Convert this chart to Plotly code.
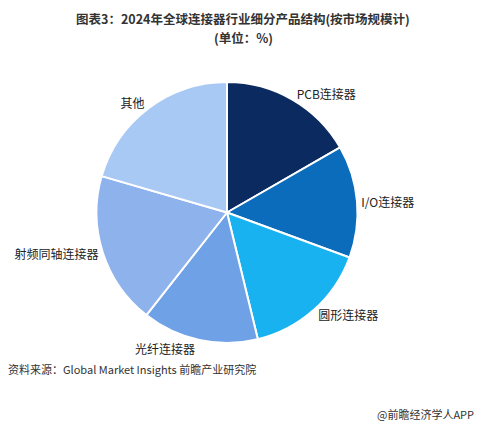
import plotly.graph_objects as go

labels = ["PCB连接器", "I/O连接器", "圆形连接器", "光纤连接器", "射频同轴连接器", "其他"]
values = [16.7, 13.9, 15.6, 14.4, 18.9, 20.5]
colors = ["#0b2a60", "#0b6cbc", "#19b2f0", "#6fa1e6", "#8db2ec", "#a9c9f5"]

fig = go.Figure(go.Pie(
    labels=labels, values=values, sort=False, direction="clockwise", rotation=0,
    marker=dict(colors=colors, line=dict(color="white", width=2)),
    textinfo="label", textposition="outside",
    textfont=dict(size=12, color="#222", family="Noto Sans CJK SC"),
    showlegend=False, hoverinfo="label+value",
    domain=dict(x=[88 / 482, 1 - 132 / 482], y=[96 / 431, 1 - 74 / 431]),
))


def note(text, ypx, x=0.5, anchor="center", size=11, bold=False, xshift=0):
    # ypx: vertical position in figure pixels from the top
    if bold:
        text = "<b>" + text + "</b>"
    return dict(text=text, x=x, y=1 - ypx / 431, xref="paper", yref="paper",
                xanchor=anchor, yanchor="middle", showarrow=False, xshift=xshift,
                font=dict(size=size, color="#333"))


fig.update_layout(
    width=482, height=431,
    margin=dict(l=0, r=0, t=0, b=0),
    paper_bgcolor="white",
    font=dict(family="Noto Sans CJK SC"),
    annotations=[
        note("图表3：2024年全球连接器行业细分产品结构(按市场规模计)", 11, size=12.5, bold=True, xshift=-6),
        note("(单位：%)", 30, size=12.5, bold=True, xshift=-6),
        note("资料来源：Global Market Insights 前瞻产业研究院", 361, x=0, anchor="left", xshift=-2),
        note("@前瞻经济学人APP", 406, x=1, anchor="right", xshift=-14),
    ],
)

fig.write_html("out.html")
